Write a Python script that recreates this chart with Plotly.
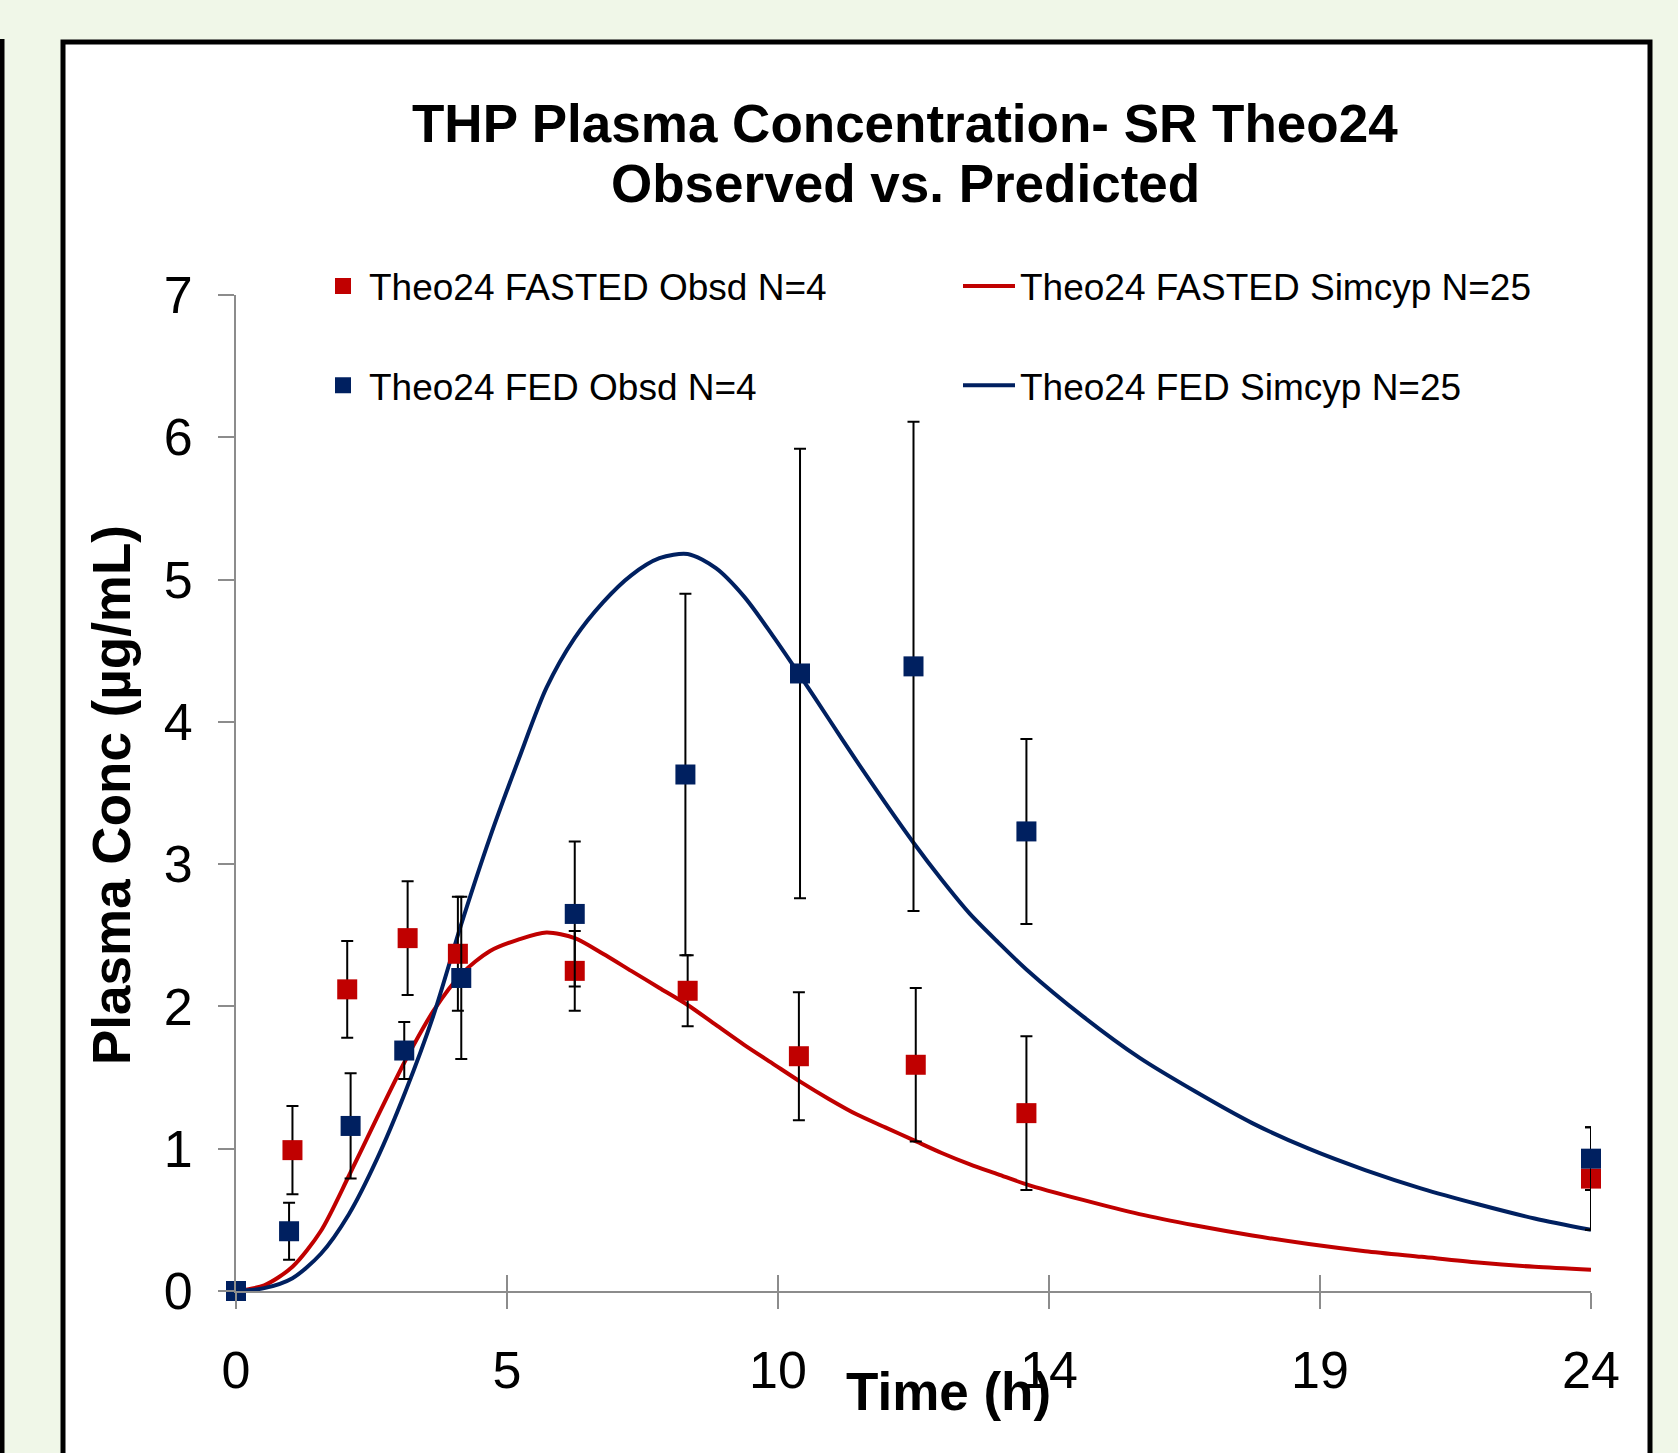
import plotly.graph_objects as go

# ---------------- data ----------------
sim_t = [0, 0.5, 1, 1.5, 2, 2.5, 3, 3.5, 4, 4.5, 5, 5.5, 6, 6.5, 7, 7.5, 8, 8.5, 9, 9.5,
         10, 10.5, 11, 11.5, 12, 12.5, 13, 13.5, 14, 15, 16, 17, 18, 19, 20, 21, 22, 23, 24]
fasted_sim = [0, 0.04, 0.17, 0.42, 0.81, 1.22, 1.62, 1.97, 2.23, 2.39, 2.47, 2.52, 2.48, 2.37,
              2.25, 2.13, 2.01, 1.87, 1.73, 1.60, 1.47, 1.35, 1.24, 1.15, 1.06, 0.97, 0.89, 0.82,
              0.75, 0.64, 0.54, 0.46, 0.39, 0.33, 0.28, 0.24, 0.20, 0.17, 0.15]
fed_sim = [0, 0.02, 0.09, 0.26, 0.54, 0.93, 1.40, 1.94, 2.59, 3.19, 3.73, 4.24, 4.59, 4.84,
           5.03, 5.15, 5.18, 5.08, 4.88, 4.61, 4.32, 4.02, 3.72, 3.43, 3.15, 2.89, 2.65, 2.45,
           2.26, 1.93, 1.64, 1.40, 1.18, 1.00, 0.85, 0.72, 0.61, 0.51, 0.43]

fasted_obs_t = [0, 1.0, 1.97, 3.04, 3.93, 6.0, 8.0, 9.97, 12.04, 14.0, 24]
fasted_obs = [0, 0.99, 2.12, 2.48, 2.37, 2.25, 2.11, 1.65, 1.59, 1.25, 0.79]
fasted_sd = [0, 0.31, 0.34, 0.40, 0.40, 0.28, 0.25, 0.45, 0.54, 0.54, 0.36]

fed_obs_t = [0, 0.94, 2.03, 2.98, 3.99, 6.0, 7.96, 9.99, 12.0, 14.0, 24]
fed_obs = [0, 0.42, 1.16, 1.69, 2.20, 2.65, 3.63, 4.34, 4.39, 3.23, 0.93]
fed_sd = [0, 0.20, 0.37, 0.20, 0.57, 0.51, 1.27, 1.58, 1.72, 0.65, 0.22]

x_tickvals = [0, 4.8, 9.6, 14.4, 19.2, 24]
x_ticktext = ["0", "5", "10", "14", "19", "24"]
y_tickvals = [0, 1, 2, 3, 4, 5, 6, 7]

title_lines = ["THP Plasma Concentration- SR Theo24", "Observed vs. Predicted"]
x_title = "Time (h)"
y_title = "Plasma Conc (µg/mL)"

RED = "#C00000"
NAVY = "#002060"
FONT = "Liberation Sans"
BG = "#F0F7E8"

# ---------------- geometry (pixels) ----------------
W, H = 1678, 1453
L, R_, T, B = 236, 1591, 295, 1291
PW, PH = R_ - L, B - T


def px(x):
    return (x - L) / PW


def py(y):
    return (B - y) / PH


fig = go.Figure()

fig.add_trace(go.Scatter(
    x=sim_t, y=fasted_sim, mode="lines", name="Theo24 FASTED Simcyp N=25",
    line=dict(color=RED, width=4, shape="spline", smoothing=0.8),
    legend="legend2", legendgroup="a", cliponaxis=False))
fig.add_trace(go.Scatter(
    x=sim_t, y=fed_sim, mode="lines", name="Theo24 FED Simcyp N=25",
    line=dict(color=NAVY, width=4, shape="spline", smoothing=0.8),
    legend="legend2", legendgroup="b", cliponaxis=False))

fig.add_trace(go.Scatter(
    x=fasted_obs_t, y=fasted_obs, mode="markers", name="Theo24 FASTED Obsd N=4",
    marker=dict(symbol="square", size=20, color=RED),
    error_y=dict(type="data", array=fasted_sd, visible=True, color="black",
                 thickness=2, width=6),
    legend="legend", legendgroup="c", cliponaxis=False))
fig.add_trace(go.Scatter(
    x=fed_obs_t, y=fed_obs, mode="markers", name="Theo24 FED Obsd N=4",
    marker=dict(symbol="square", size=20, color=NAVY),
    error_y=dict(type="data", array=fed_sd, visible=True, color="black",
                 thickness=2, width=6),
    legend="legend", legendgroup="d", cliponaxis=False))

# invisible helper trace so the inner-tick axis is drawn
fig.add_trace(go.Scatter(x=[0, 24], y=[0, 0], mode="markers", xaxis="x2",
                         marker=dict(opacity=0), showlegend=False, hoverinfo="skip"))

AX = "#8C8C8C"

fig.update_layout(
    width=W, height=H,
    margin=dict(l=L, r=W - R_, t=T, b=H - B, pad=0),
    paper_bgcolor=BG, plot_bgcolor="white",
    font=dict(family=FONT, color="black"),
    xaxis=dict(range=[0, 24], tickmode="array", tickvals=x_tickvals, ticktext=x_ticktext,
               ticks="outside", ticklen=16, tickwidth=2, tickcolor=AX,
               showline=True, linecolor=AX, linewidth=2, showgrid=False, zeroline=False,
               tickfont=dict(size=52, family=FONT, color="black"), ticklabelstandoff=17),
    xaxis2=dict(range=[0, 24], overlaying="x", anchor="y", side="bottom",
                tickmode="array", tickvals=x_tickvals, ticks="inside", ticklen=16,
                tickwidth=2, tickcolor=AX, showticklabels=False, showline=False,
                showgrid=False, zeroline=False),
    yaxis=dict(range=[0, 7], tickmode="array", tickvals=y_tickvals,
               ticks="outside", ticklen=16, tickwidth=2, tickcolor=AX,
               showline=True, linecolor=AX, linewidth=2, showgrid=False, zeroline=False,
               tickfont=dict(size=52, family=FONT, color="black"), ticklabelstandoff=15),
    legend=dict(x=px(317), y=py(336), xanchor="left", yanchor="middle", itemwidth=42,
                bgcolor="rgba(0,0,0,0)", font=dict(size=37, family=FONT, color="black"),
                traceorder="grouped", tracegroupgap=48, orientation="v"),
    legend2=dict(x=px(958), y=py(336), xanchor="left", yanchor="middle", itemwidth=52,
                 bgcolor="rgba(0,0,0,0)", font=dict(size=37, family=FONT, color="black"),
                 traceorder="grouped", tracegroupgap=48, orientation="v"),
    showlegend=True,
)

# outer white panel with black frame, and the neighbouring panel edge at left
fig.add_shape(type="rect", xref="paper", yref="paper", layer="below",
              x0=px(63), x1=px(1650), y0=py(1500), y1=py(42),
              fillcolor="white", line=dict(color="black", width=5))
fig.add_shape(type="line", xref="paper", yref="paper", layer="below",
              x0=px(2), x1=px(2), y0=py(39), y1=py(1500),
              line=dict(color="black", width=5))

fig.add_annotation(text="<b>%s</b>" % title_lines[0], xref="paper", yref="paper",
                   x=px(905), y=py(123), xanchor="center", yanchor="middle",
                   showarrow=False, font=dict(size=53, family=FONT, color="black"))
fig.add_annotation(text="<b>%s</b>" % title_lines[1], xref="paper", yref="paper",
                   x=px(905), y=py(184), xanchor="center", yanchor="middle",
                   showarrow=False, font=dict(size=53, family=FONT, color="black"))
fig.add_annotation(text="<b>%s</b>" % y_title, xref="paper", yref="paper",
                   x=px(111), y=py(795), xanchor="center", yanchor="middle",
                   textangle=-90, showarrow=False,
                   font=dict(size=53, family=FONT, color="black"))
fig.add_annotation(text="<b>%s</b>" % x_title, xref="paper", yref="paper",
                   x=px(948), y=py(1391), xanchor="center", yanchor="middle",
                   showarrow=False, font=dict(size=53, family=FONT, color="black"))

fig.write_html(
    "out.html",
    config={"displayModeBar": False},
    post_script="document.body.style.margin='0';document.body.style.background='%s';" % BG,
)
